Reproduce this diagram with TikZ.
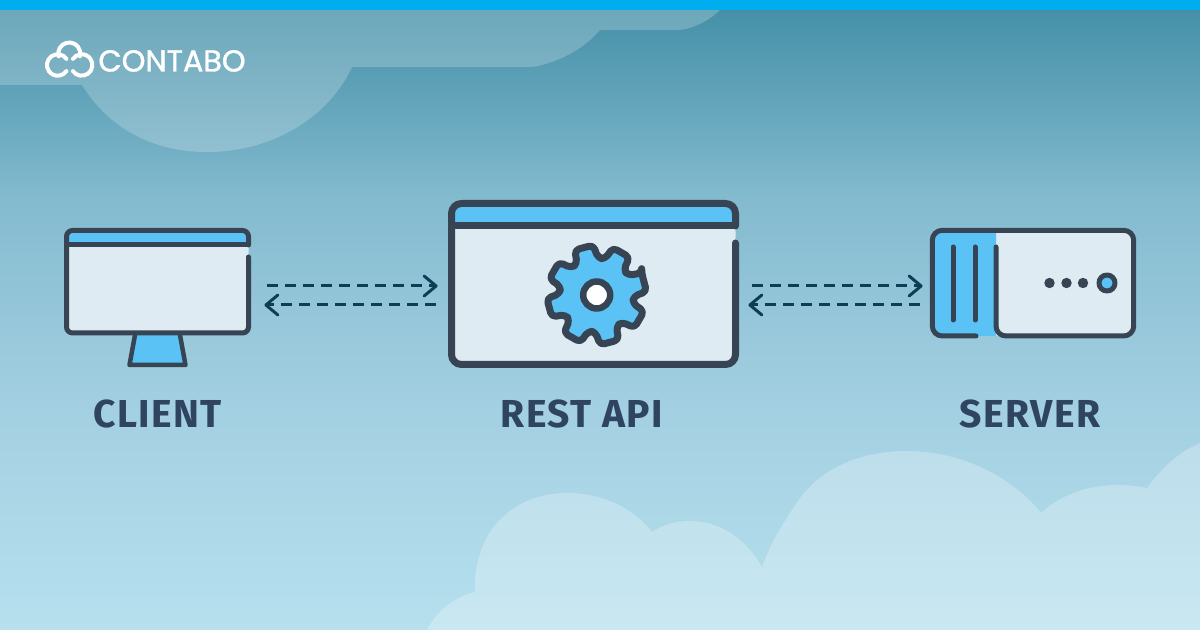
\documentclass[tikz,border=0pt]{standalone}
\usepackage{fontspec}
\setmainfont{Fira Sans}
\newfontfamily\logofont[FakeBold=1.3]{Poppins}
\newfontfamily\labelfont[LetterSpace=3.7]{Fira Sans}
\usetikzlibrary{arrows.meta}
\definecolor{ink}{HTML}{374453}
\definecolor{sky}{HTML}{5BC2F5}
\definecolor{pane}{HTML}{DEEBF2}
\definecolor{arrowc}{HTML}{0F3D56}
\definecolor{labelc}{HTML}{2E4460}
\definecolor{barc}{HTML}{00ADEF}
\definecolor{bgA}{HTML}{4590A8}
\definecolor{bgB}{HTML}{84BBCF}
\definecolor{bgC}{HTML}{A2CFE1}
\definecolor{bgD}{HTML}{B6E0EE}
\tikzset{
  px/.style={line width=#1*0.5pt},
  outline/.style={draw=ink,line cap=round,line join=round},
  link/.style={draw=arrowc,px=3,dash pattern=on 5.5pt off 3.5pt,
    -{Straight Barb[length=6pt,width=10pt,line width=1.5pt,round]}},
  iconlabel/.style={text=labelc,font=\labelfont\fontsize{19.5}{20}\bfseries\selectfont,anchor=base,inner sep=0pt},
  iconbox/.style n args={2}{inner sep=0pt,minimum width=#1*0.5pt,minimum height=#2*0.5pt},
}
\begin{document}
\begin{tikzpicture}[x=0.5pt,y=-0.5pt]
\useasboundingbox (0,0) rectangle (1200,630);
% sky
\shade[top color=bgA,bottom color=bgB] (0,10) rectangle (1200,200.5);
\shade[top color=bgB,bottom color=bgC] (0,200) rectangle (1200,400.5);
\shade[top color=bgC,bottom color=bgD] (0,400) rectangle (1200,630);
% clouds
\fill[white,opacity=.21] (0,0) -- (0,85) -- (82,85)
  .. controls (110,130) and (155,152) .. (207,152)
  .. controls (275,152) and (330,115) .. (352,67)
  -- (533,67) .. controls (560,62) and (585,48) .. (600,30)
  -- (680,30) .. controls (695,28) and (710,20) .. (720,10) -- (720,0) -- cycle;
\fill[white,opacity=.26] (427,630) .. controls (437,610) and (455,597) .. (475,592)
  .. controls (473,560) and (487,530) .. (503,517)
  .. controls (520,500) and (545,493) .. (567,493)
  .. controls (605,493) and (635,510) .. (652,532)
  .. controls (662,525) and (675,521) .. (690,521)
  .. controls (725,521) and (750,545) .. (762,567)
  .. controls (770,545) and (780,527) .. (800,498)
  .. controls (825,465) and (865,451) .. (907,451)
  .. controls (965,451) and (1015,480) .. (1041,513)
  .. controls (1058,497) and (1085,485) .. (1117,485)
  .. controls (1128,485) and (1138,486) .. (1147,488)
  .. controls (1160,470) and (1178,452) .. (1200,443)
  -- (1200,630) -- cycle;
\fill[barc] (0,0) rectangle (1200,10);
% logo
\draw[white,px=4,line cap=round]
  (69.3,53.5) ++(165:11) arc[start angle=165,end angle=375,radius=11]
  (57.7,65) ++(-35:10.7) arc[start angle=-35,end angle=-325,radius=10.7]
  (81.7,65) ++(145:10.7) arc[start angle=145,end angle=-145,radius=10.7];
\node[text=white,anchor=base west,inner sep=0pt,font=\logofont\fontsize{15.1}{15}\selectfont] (brand) at (98,71.5) {CONTABO};
% anchors of the three icons
\node[iconbox={186}{107}] (client) at (157,282) {};
\node[iconbox={291}{168}] (api) at (593.5,284) {};
\node[iconbox={206}{110}] (server) at (1033,283) {};
% client
\fill[pane,rounded corners=3pt] (66.5,240) rectangle (248.5,333);
\fill[sky] (66.5,245) [rounded corners=3pt] -- (66.5,230.5) -- (248.5,230.5) [sharp corners] -- (248.5,245) -- cycle;
\draw[outline,px=4.5,fill=sky] (135,335) -- (129.5,365) -- (185.5,365) -- (180,335);
\draw[outline,px=5,rounded corners=3pt] (248.5,257) -- (248.5,333) -- (66.5,333) -- (66.5,230.5) -- (248.5,230.5) -- (248.5,245);
\draw[outline,px=5,line cap=butt] (66.5,245) -- (248.5,245);
\node[iconlabel] (clientlabel) at (157.5,428) {CLIENT};
% api
\fill[pane,rounded corners=5pt] (451.5,215) rectangle (735.5,364.5);
\fill[sky] (451.5,226) [rounded corners=5pt] -- (451.5,203.5) -- (735.5,203.5) [sharp corners] -- (735.5,226) -- cycle;
\draw[outline,px=7,rounded corners=5pt] (735.5,243) -- (735.5,364.5) -- (451.5,364.5) -- (451.5,203.5) -- (735.5,203.5) -- (735.5,226);
\draw[outline,px=7,line cap=butt] (451.5,226) -- (735.5,226);
\begin{scope}[shift={(596.7,295)}]
\draw[outline,px=7,fill=sky,rounded corners=2.2pt] (-26:50)
  \foreach \a in {-15,30,75,120,165,210,255,300} { -- (\a-11:50) -- (\a+11:50) -- (\a+17:37) -- (\a+28:37) } -- cycle;
\draw[outline,px=6.5,fill=white] (0,0) circle[radius=13.5];
\end{scope}
\node[iconlabel] (apilabel) at (582,428) {REST API};
% server
\fill[pane,rounded corners=5pt] (985,230.3) rectangle (1133.7,336);
\fill[sky] (996,230.3) [rounded corners=5pt] -- (932.3,230.3) -- (932.3,336) [sharp corners] -- (996,336) -- cycle;
\draw[outline,px=5,rounded corners=5pt] (976,336) -- (932.3,336) -- (932.3,230.3) -- (1133.7,230.3) -- (1133.7,336) -- (996,336) -- (996,247);
\draw[outline,px=5] (953,247) -- (953,320) (975,247) -- (975,320);
\fill[ink] (1049.5,283) circle[radius=5.2] (1066.5,283) circle[radius=5.2] (1083,283) circle[radius=5.2];
\draw[outline,px=5,fill=sky] (1107,283) circle[radius=8];
\node[iconlabel] (serverlabel) at (1030,428) {SERVER};
% connectors
\draw[link] ([xshift=8.5pt,yshift=-2pt]client.east) -- ([xshift=-5pt,yshift=-1pt]api.west);
\draw[link] ([xshift=-6pt,yshift=-10.5pt]api.west) -- ([xshift=7pt,yshift=-11.5pt]client.east);
\draw[link] ([xshift=6.5pt,yshift=-1pt]api.east) -- ([xshift=-3.5pt,yshift=-1.5pt]server.west);
\draw[link] ([xshift=-5pt,yshift=-11pt]server.west) -- ([xshift=4.5pt,yshift=-10.5pt]api.east);
\end{tikzpicture}
\end{document}
